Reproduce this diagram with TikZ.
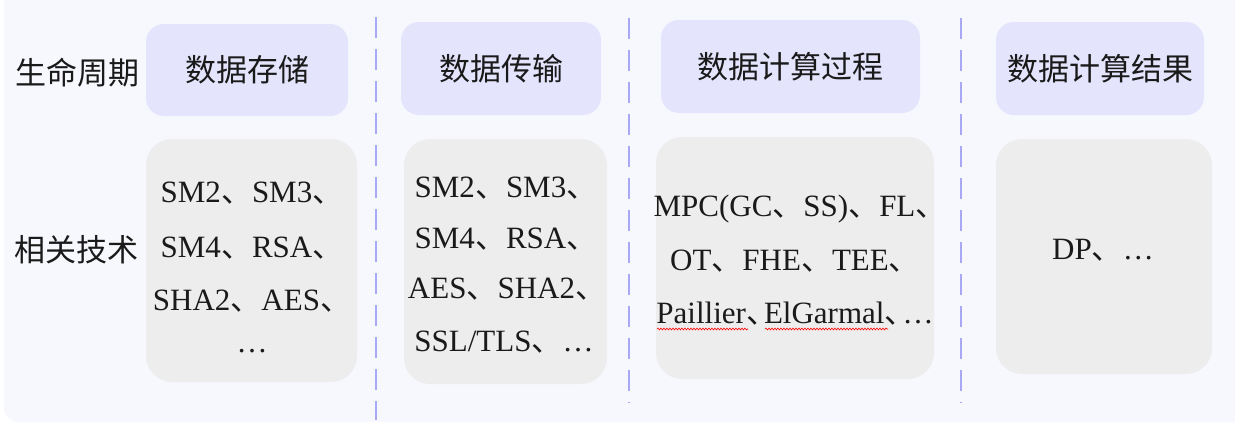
\documentclass[tikz,border=0pt]{standalone}
\usepackage{fontspec}
\setmainfont{Liberation Serif}
\newfontfamily\cjk{Noto Sans CJK SC}
\newfontfamily\cjkh[RawFeature=+halt]{Noto Sans CJK SC}
\usetikzlibrary{decorations.pathmorphing}
\definecolor{panelbg}{RGB}{247,248,254}
\definecolor{headfill}{RGB}{228,228,252}
\definecolor{techfill}{RGB}{237,237,237}
\definecolor{sepcol}{RGB}{168,168,245}
\definecolor{txt}{RGB}{26,26,26}
\newcommand\dn{{\cjk 、}}
\newcommand\dnn{{\cjkh 、}\kern2.5pt}
\tikzset{
  headbox/.style={fill=headfill, draw=none, rounded corners=18pt},
  techbox/.style={fill=techfill, draw=none, rounded corners=26pt},
  headtxt/.style={font=\cjk\fontsize{31}{36}\selectfont, text=txt, inner sep=0pt},
  sidetxt/.style={font=\cjk\fontsize{31}{36}\selectfont, text=txt, inner sep=0pt},
  techtxt/.style={font=\fontsize{31}{36}\selectfont, text=txt, inner sep=0pt, anchor=base},
  sepline/.style={draw=sepcol, line width=2pt, dash pattern=on 21pt off 11pt},
  squig/.style={draw=red, line width=0.6pt, decorate, decoration={snake, amplitude=0.9pt, segment length=3pt}}
}
\begin{document}
\begin{tikzpicture}[x=1pt,y=-1pt]
\useasboundingbox (0,0) rectangle (1235,423);
% panel
\fill[panelbg, rounded corners=14pt] (4,-30) rectangle (1260,422);

% separators
\draw[sepline] (376,17) -- (376,420);
\draw[sepline] (629,18) -- (629,403);
\draw[sepline] (961,18) -- (961,403);

% header boxes
\path[headbox] (146,24) rectangle (348,116);
\path[headbox] (401,22) rectangle (601,115);
\path[headbox] (661,20) rectangle (920,113);
\path[headbox] (996,22) rectangle (1204,115);
\node[headtxt] (h1) at (247,70) {数据存储};
\node[headtxt] (h2) at (501,69) {数据传输};
\node[headtxt] (h3) at (790,67) {数据计算过程};
\node[headtxt] (h4) at (1100,69) {数据计算结果};

% side labels
\node[sidetxt] (lc) at (78,73) {生命周期};
\node[sidetxt] (rt) at (77,250) {相关技术};

% tech boxes
\path[techbox] (146,139) rectangle (357,382);
\path[techbox] (404,139) rectangle (607,384);
\path[techbox] (656,137) rectangle (934,379);
\path[techbox] (996,139) rectangle (1212,374);

% box 1
\node[techtxt] (a1) at (252,202) {SM2\dn SM3\dn};
\node[techtxt] (a2) at (252,257) {SM4\dn RSA\dn};
\node[techtxt] (a3) at (252,310) {SHA2\dn AES\dn};
\node[techtxt] (a4) at (252,352) {…};

% box 2
\node[techtxt] (b1) at (506,197) {SM2\dn SM3\dn};
\node[techtxt] (b2) at (506,248) {SM4\dn RSA\dn};
\node[techtxt] (b3) at (507,298) {AES\dn SHA2\dn};
\node[techtxt] (b4) at (504,351) {SSL/TLS\dn …};

% box 3
\node[techtxt] (c1) at (800,216) {MPC(GC\dn SS)\dn FL\dn};
\node[techtxt] (c2) at (795,270) {OT\dn FHE\dn TEE\dn};
\node[techtxt] (c3) at (795,323) {Paillier\dnn ElGarmal\dnn …};
\draw[squig] (657,329) -- (748,329);
\draw[squig] (765,329) -- (888,329);

% box 4
\node[techtxt] (d1) at (1103,259) {DP\dn …};
\end{tikzpicture}
\end{document}
